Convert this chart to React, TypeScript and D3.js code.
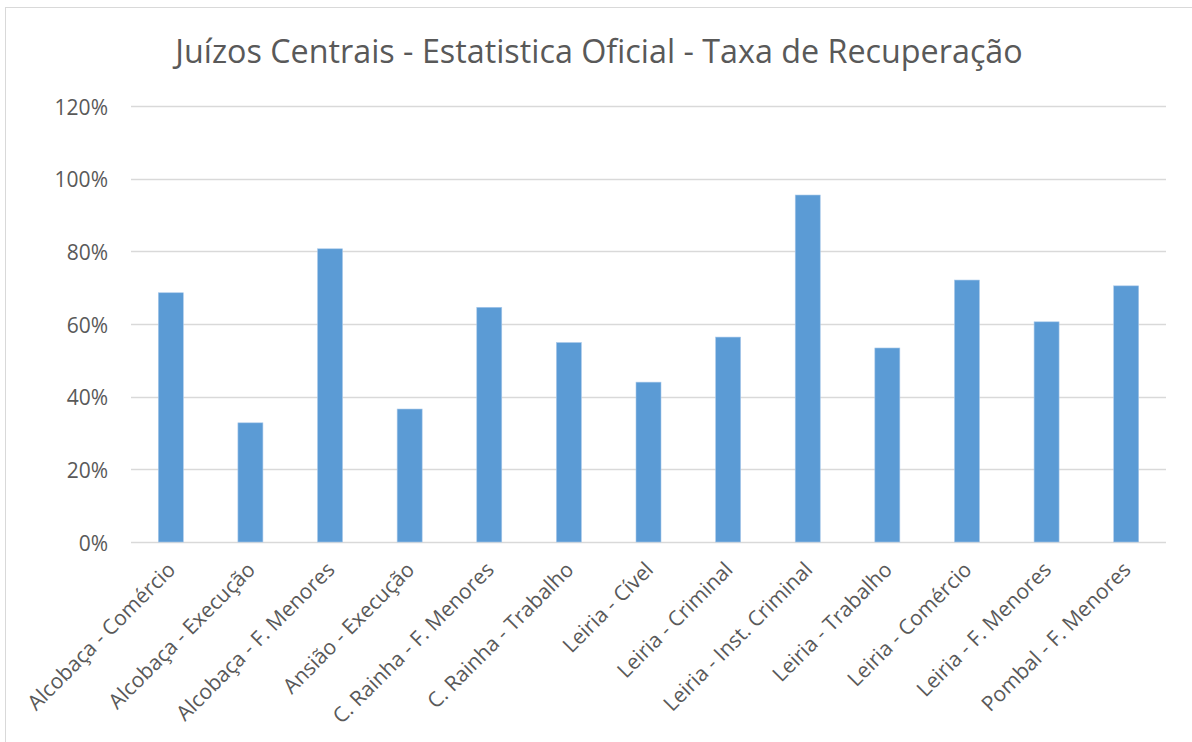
import React from "react";
import * as d3 from "d3";

const categories = [
  "Alcobaça - Comércio",
  "Alcobaça - Execução",
  "Alcobaça - F. Menores",
  "Ansião - Execução",
  "C. Rainha - F. Menores",
  "C. Rainha - Trabalho",
  "Leiria - Cível",
  "Leiria - Criminal",
  "Leiria - Inst. Criminal",
  "Leiria - Trabalho",
  "Leiria - Comércio",
  "Leiria - F. Menores",
  "Pombal - F. Menores",
];
const values = [0.686, 0.328, 0.807, 0.366, 0.646, 0.549, 0.44, 0.564, 0.955, 0.534, 0.721, 0.606, 0.705];
const yTicks = [0, 0.2, 0.4, 0.6, 0.8, 1.0, 1.2];
const title = "Juízos Centrais - Estatistica Oficial - Taxa de Recuperação";

const W = 1192;
const H = 742;
const left = 131;
const right = 1166;
const top = 106;
const bottom = 542;
const font = "'Open Sans', 'Noto Sans', sans-serif";

export default function App() {
  const x = d3.scaleBand<string>().domain(categories).range([left, right]).padding(0);
  const y = d3.scaleLinear().domain([0, 1.2]).range([bottom, top]);
  const bw = x.bandwidth() * 0.314;
  const fmt = d3.format(".0%");
  return (
    <svg width={W} height={H} style={{ position: "absolute", left: 0, top: 0, background: "#fff" }}>
      <rect x={5.5} y={7.5} width={W} height={H} fill="#fff" stroke="#d9d9d9" strokeWidth={1} />
      <text x={599} y={63} textAnchor="middle" fontFamily={font} fontSize={32.3} fill="#595959">
        {title}
      </text>
      {yTicks.map((t) => (
        <g key={t}>
          <line x1={left} x2={right} y1={Math.round(y(t)) + 0.5} y2={Math.round(y(t)) + 0.5} stroke="#d9d9d9" strokeWidth={1.3} />
          <text x={108} y={y(t) + 8.5} textAnchor="end" fontFamily={font} fontSize={21} fill="#595959">
            {fmt(t)}
          </text>
        </g>
      ))}
      {categories.map((c, i) => {
        const cx = (x(c) as number) + x.bandwidth() / 2;
        return (
          <g key={c}>
            <rect x={cx - bw / 2} y={y(values[i])} width={bw} height={bottom - y(values[i])} fill="#5b9bd5" stroke="#a9c9ea" strokeWidth={0.6} />
            <text
              transform={`translate(${cx + 6},${bottom + 29}) rotate(-45)`}
              textAnchor="end"
              fontFamily={font}
              fontSize={21}
              fill="#595959"
            >
              {c}
            </text>
          </g>
        );
      })}
    </svg>
  );
}
